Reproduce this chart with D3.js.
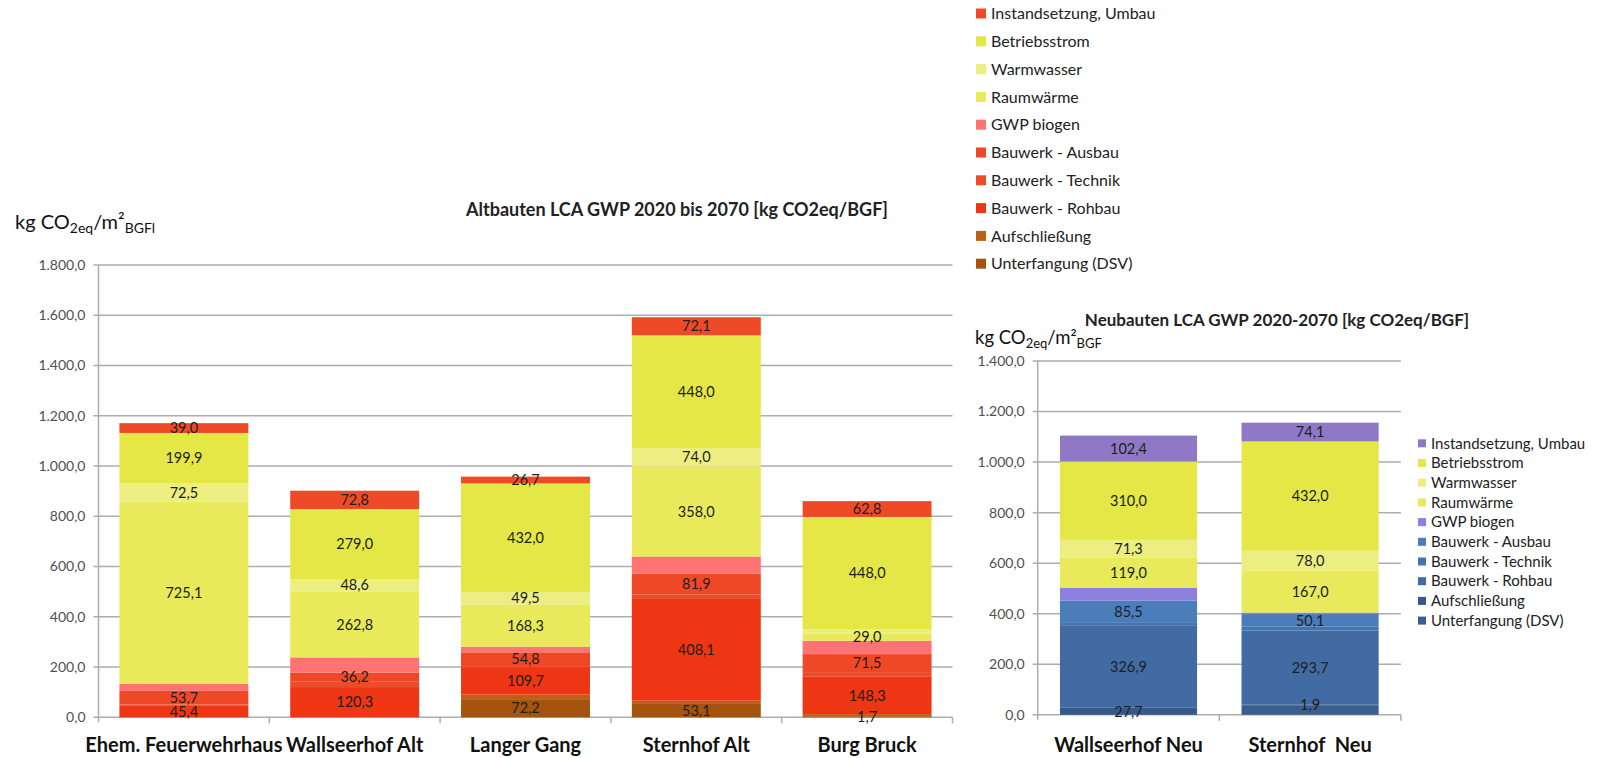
<!DOCTYPE html>
<html><head><meta charset="utf-8">
<script src="https://cdn.jsdelivr.net/npm/d3@7"></script>
<style>
body{margin:0;background:#fff;}
svg text{font-family:Lato,"Open Sans",sans-serif;}
</style></head><body>
<svg id="c" width="1606" height="758"></svg>
<script>
// ---------- DATA ----------
const seriesNames = ["Unterfangung (DSV)","Aufschließung","Bauwerk - Rohbau","Bauwerk - Technik","Bauwerk - Ausbau","GWP biogen","Raumwärme","Warmwasser","Betriebsstrom","Instandsetzung, Umbau"];

const altCategories = ["Ehem. Feuerwehrhaus","Wallseerhof Alt","Langer Gang","Sternhof Alt","Burg Bruck"];
const altDSV        = [0, 0, 72.2, 53.1, 1.7];
const altAufschl    = [0, 0, 18, 13, 11];
const altRohbau     = [45.4, 120.3, 109.7, 408.1, 148.3];
const altTechnik    = [6, 21, 4, 15, 19];
const altAusbau     = [53.7, 36.2, 54.8, 81.9, 71.5];
const altBiogen     = [29, 61, 22.5, 69, 53];
const altRaumwaerme = [725.1, 262.8, 168.3, 358.0, 29.0];
const altWarmwasser = [72.5, 48.6, 49.5, 74.0, 16];
const altStrom      = [199.9, 279.0, 432.0, 448.0, 448.0];
const altInstand    = [39.0, 72.8, 26.7, 72.1, 62.8];
const altTicks      = [0,200,400,600,800,1000,1200,1400,1600,1800];
const altLabelSeries = ["Unterfangung (DSV)","Bauwerk - Rohbau","Bauwerk - Ausbau","Raumwärme","Warmwasser","Betriebsstrom","Instandsetzung, Umbau"];
const altHiddenLabels = ["Burg Bruck|Warmwasser"];
const altColors = ["#a5540f","#bc6114","#ee3514","#ee4b2b","#ef4826","#ff7373","#e8ea5c","#ecee82","#e4e745","#ef4a27"];

const neuCategories = ["Wallseerhof Neu","Sternhof  Neu"];
const neuDSV        = [0, 38];
const neuAufschl    = [27.7, 1.9];
const neuRohbau     = [326.9, 293.7];
const neuTechnik    = [12, 15];
const neuAusbau     = [85.5, 50.1];
const neuBiogen     = [50, 6];
const neuRaumwaerme = [119.0, 167.0];
const neuWarmwasser = [71.3, 78.0];
const neuStrom      = [310.0, 432.0];
const neuInstand    = [102.4, 74.1];
const neuTicks      = [0,200,400,600,800,1000,1200,1400];
const neuLabelSeries = ["Aufschließung","Bauwerk - Rohbau","Bauwerk - Ausbau","Raumwärme","Warmwasser","Betriebsstrom","Instandsetzung, Umbau"];
const neuColors = ["#3a5f8f","#35598a","#416ba2","#4674b0","#4b7dbb","#8b80dd","#e8ea5c","#ecee82","#e4e745","#8f79c6"];

// ---------- DRAW ----------
const loc = d3.formatLocale({decimal:",",thousands:".",grouping:[3],currency:["","€"]});
const fmt = loc.format(",.1f");
const svg = d3.select("#c");

function drawChart(cfg){
  const rows = cfg.categories.map((c,i)=>{
    const r = {cat:c};
    seriesNames.forEach((s,k)=>{ r[s] = cfg.values[k][i]; });
    return r;
  });
  const stack = d3.stack().keys(seriesNames)(rows);
  const x = d3.scaleBand().domain(cfg.categories).range([cfg.x0,cfg.x1]).paddingInner(0.245).paddingOuter(0.1225);
  const y = d3.scaleLinear().domain([0,d3.max(cfg.ticks)]).range([cfg.yBase,cfg.yTop]);
  const color = d3.scaleOrdinal().domain(seriesNames).range(cfg.colors);
  const g = svg.append("g");

  // gridlines + y tick labels
  g.selectAll("line.grid").data(cfg.ticks).join("line")
    .attr("x1",cfg.x0-5).attr("x2",cfg.x1).attr("y1",d=>y(d)).attr("y2",d=>y(d))
    .attr("stroke","#adadad").attr("stroke-width",1.5);
  g.selectAll("text.yt").data(cfg.ticks).join("text")
    .attr("x",cfg.x0-13).attr("y",d=>y(d)).attr("dy","0.35em")
    .attr("text-anchor","end").attr("font-size",cfg.tickSize).attr("fill","#505050")
    .text(d=>fmt(d));
  // y axis
  g.append("line").attr("x1",cfg.x0).attr("x2",cfg.x0).attr("y1",y(d3.max(cfg.ticks))).attr("y2",cfg.yBase+5)
    .attr("stroke","#adadad").attr("stroke-width",1.5);
  // x ticks at category boundaries
  const bounds = cfg.categories.map(c=>x(c)-x.step()*x.paddingInner()/2);
  bounds.push(cfg.x1);
  g.selectAll("line.xt").data(bounds.slice(1)).join("line")
    .attr("x1",d=>d).attr("x2",d=>d).attr("y1",cfg.yBase).attr("y2",cfg.yBase+6)
    .attr("stroke","#adadad").attr("stroke-width",1.5);

  // bars
  stack.forEach(layer=>{
    g.append("g").attr("fill",color(layer.key)).selectAll("rect").data(layer).join("rect")
      .attr("x",d=>x(d.data.cat)).attr("width",x.bandwidth())
      .attr("y",d=>y(d[1])).attr("height",d=>Math.max(0,y(d[0])-y(d[1])));
  });
  // bar labels
  stack.forEach(layer=>{
    if(!cfg.labelSeries.includes(layer.key)) return;
    g.append("g").selectAll("text").data(layer.filter(d=>(d[1]-d[0])>0 && !cfg.hidden.includes(d.data.cat+"|"+layer.key))).join("text")
      .attr("x",d=>x(d.data.cat)+x.bandwidth()/2).attr("y",d=>(y(d[0])+y(d[1]))/2).attr("dy","0.36em")
      .attr("text-anchor","middle").attr("font-size",cfg.labelSize).attr("fill","#1e1e1e")
      .text(d=>fmt(d[1]-d[0]));
  });
  // category labels
  g.selectAll("text.cat").data(cfg.categories).join("text")
    .attr("x",d=>x(d)+x.bandwidth()/2).attr("y",cfg.catY)
    .attr("text-anchor","middle").attr("font-size",cfg.catSize).attr("font-weight","bold")
    .attr("fill","#111").style("white-space","pre").text(d=>d);
  // title
  g.append("text").attr("x",cfg.titleX).attr("y",cfg.titleY).attr("text-anchor","middle")
    .attr("font-size",cfg.titleSize).attr("font-weight","bold").attr("fill","#222").text(cfg.title);
  // unit
  const u = g.append("text").attr("x",cfg.unitX).attr("y",cfg.unitY).attr("font-size",cfg.unitSize).attr("fill","#111");
  const sub = Math.round(cfg.unitSize*0.7);
  u.append("tspan").text("kg CO");
  u.append("tspan").attr("font-size",sub).attr("dy",4).text("2eq");
  u.append("tspan").attr("dy",-4).text("/m²");
  u.append("tspan").attr("font-size",sub).attr("dy",4).text(cfg.unitSub);
  // legend
  const lg = g.append("g");
  const items = seriesNames.slice().reverse();
  items.forEach((s,i)=>{
    const cy = cfg.legY + i*cfg.legStep;
    lg.append("rect").attr("x",cfg.legX).attr("y",cy-cfg.legSq/2).attr("width",cfg.legSq).attr("height",cfg.legSq).attr("fill",color(s));
    lg.append("text").attr("x",cfg.legX+cfg.legSq+5).attr("y",cy).attr("dy","0.35em")
      .attr("font-size",cfg.legSize).attr("fill","#222").text(s);
  });
}

drawChart({
  categories: altCategories,
  values: [altDSV,altAufschl,altRohbau,altTechnik,altAusbau,altBiogen,altRaumwaerme,altWarmwasser,altStrom,altInstand],
  colors: altColors, ticks: altTicks, labelSeries: altLabelSeries, hidden: altHiddenLabels,
  x0: 98.5, x1: 952.5, yBase: 717.3, yTop: 265,
  tickSize: 14, labelSize: 14.5, catSize: 20, catY: 752,
  title: "Altbauten LCA GWP 2020 bis 2070 [kg CO2eq/BGF]", titleX: 677, titleY: 216, titleSize: 18,
  unitX: 15, unitY: 229, unitSize: 20, unitSub: "BGFl",
  legX: 976, legY: 13.5, legStep: 27.8, legSq: 10, legSize: 16
});
drawChart({
  categories: neuCategories,
  values: [neuDSV,neuAufschl,neuRohbau,neuTechnik,neuAusbau,neuBiogen,neuRaumwaerme,neuWarmwasser,neuStrom,neuInstand],
  colors: neuColors, ticks: neuTicks, labelSeries: neuLabelSeries, hidden: [],
  x0: 1037.7, x1: 1400.9, yBase: 714.8, yTop: 361,
  tickSize: 14, labelSize: 14.5, catSize: 20, catY: 752,
  title: "Neubauten LCA GWP 2020-2070 [kg CO2eq/BGF]", titleX: 1277, titleY: 326, titleSize: 17,
  unitX: 975, unitY: 344, unitSize: 18.5, unitSub: "BGF",
  legX: 1418, legY: 443.3, legStep: 19.7, legSq: 8, legSize: 15
});
</script>
</body></html>
